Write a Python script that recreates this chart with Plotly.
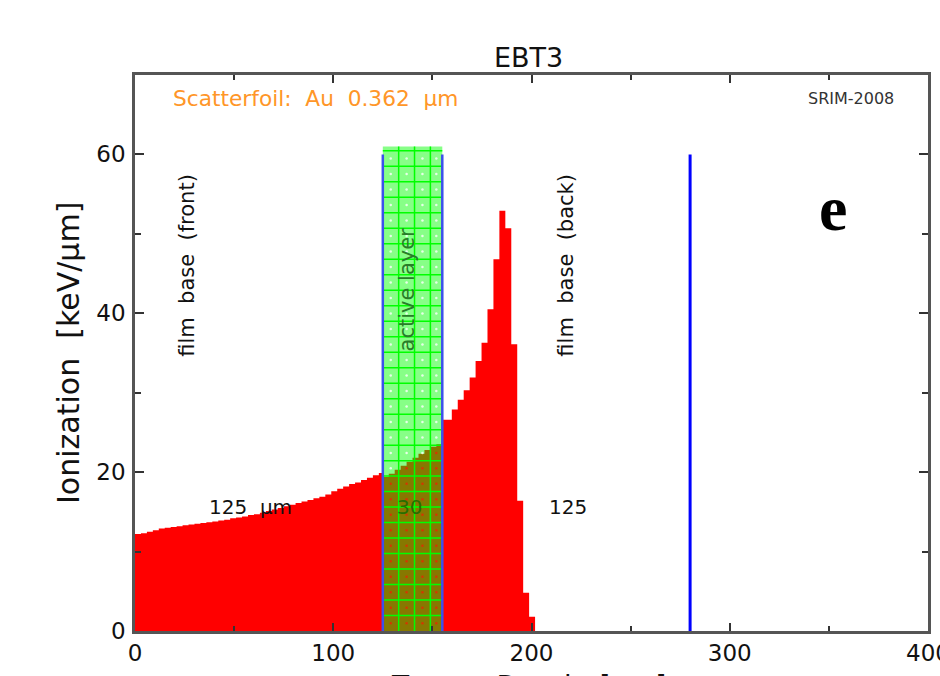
import numpy as np
import plotly.graph_objects as go

# ---------------- data ----------------
layer_names = ["film  base  (front)", "active layer", "film  base  (back)"]
layer_thickness = [125, 30, 125]          # µm
layer_labels = ["125  µm", "30", "125"]

# ionization (keV/µm) per depth bin
front_bin_width = 3.0
front_ionization = [12.2, 12.3, 12.5, 12.7, 12.9, 13.0, 13.1, 13.2, 13.3, 13.4,
                    13.5, 13.6, 13.7, 13.8, 13.9, 14.0, 14.2, 14.3, 14.4, 14.6,
                    14.7, 14.9, 15.1, 15.3, 15.5, 15.7, 15.9, 16.1, 16.3, 16.5,
                    16.7, 16.9, 17.2, 17.6, 17.9, 18.2, 18.5, 18.7, 19.0, 19.3,
                    19.6, 19.9]
active_bin_width = 3.0
active_ionization = [19.4, 19.8, 20.3, 20.8, 21.3, 21.8, 22.3, 22.8, 23.2, 23.5]
back_bin_edges = [155, 159.8, 162.8, 165.8, 168.8, 171.8, 174.8, 177.8, 180.8,
                  183.8, 186.8, 189.8, 192.8, 195.8, 198.8, 201.8]
back_ionization = [26.6, 27.9, 29.1, 30.3, 31.9, 34.0, 36.3, 40.5, 46.8, 52.9,
                   50.7, 36.1, 16.4, 4.8, 1.8]

x_ticks = [0, 100, 200, 300, 400]
y_ticks = [0, 20, 40, 60]

# ---------------- build step outline ----------------
bounds = np.concatenate([[0], np.cumsum(layer_thickness)])


def region_edges(start, end, width, n):
    return [min(start + width * k, end) for k in range(n)] + [end]


front_edges = region_edges(bounds[0], bounds[1], front_bin_width, len(front_ionization))
active_edges = region_edges(bounds[1], bounds[2], active_bin_width, len(active_ionization))

xs, ys = [], []
for edges, vals in [(front_edges, front_ionization),
                    (active_edges, active_ionization),
                    (back_bin_edges, back_ionization)]:
    for i, v in enumerate(vals):
        xs.append(edges[i])
        ys.append(v)
xs.append(back_bin_edges[-1])
ys.append(0)

fig = go.Figure()

# red ionization histogram
fig.add_trace(go.Scatter(
    x=xs, y=ys, mode="lines", line=dict(width=0, shape="hv", color="red"),
    fill="tozeroy", fillcolor="rgb(255,0,0)", hoverinfo="skip", showlegend=False))

# active layer box (translucent green)
a0, a1 = bounds[1], bounds[2]
box_top = 61
fig.add_trace(go.Scatter(
    x=[a0, a1, a1, a0, a0], y=[0, 0, box_top, box_top, 0], mode="lines",
    line=dict(width=0), fill="toself", fillcolor="rgba(0,255,0,0.47)",
    hoverinfo="skip", showlegend=False))

# hatch grid inside the active layer
gx = list(np.arange(a0, a1, 8.0))[1:]
gy = list(np.arange(0, box_top, 1.95))[1:]
lx, ly = [], []
for g in gx:
    lx += [g, g, None]
    ly += [0, box_top, None]
for g in gy:
    lx += [a0, a1, None]
    ly += [g, g, None]
fig.add_trace(go.Scatter(x=lx, y=ly, mode="lines",
                         line=dict(color="rgb(0,255,0)", width=1.5),
                         hoverinfo="skip", showlegend=False))

# dots in cell centres
cx_edges = [a0] + gx + [a1]
cy_edges = [0] + gy
dxw, dyw, dxr, dyr = [], [], [], []
act_centers = np.array(active_edges[:-1]) + active_bin_width / 2
for i in range(len(cx_edges) - 1):
    cx = (cx_edges[i] + cx_edges[i + 1]) / 2
    level = np.interp(cx, act_centers, active_ionization)
    for j in range(len(cy_edges) - 1):
        cy = (cy_edges[j] + cy_edges[j + 1]) / 2
        if cy < level:
            dxr.append(cx); dyr.append(cy)
        else:
            dxw.append(cx); dyw.append(cy)
fig.add_trace(go.Scatter(x=dxw, y=dyw, mode="markers",
                         marker=dict(size=2.5, color="rgba(255,255,255,0.8)"),
                         hoverinfo="skip", showlegend=False))
fig.add_trace(go.Scatter(x=dxr, y=dyr, mode="markers",
                         marker=dict(size=2.5, color="rgba(230,40,0,0.8)"),
                         hoverinfo="skip", showlegend=False))

# layer boundary lines
for b in bounds[1:3]:
    fig.add_trace(go.Scatter(x=[b, b], y=[0, 60], mode="lines",
                             line=dict(color="rgb(60,80,235)", width=2.5),
                             hoverinfo="skip", showlegend=False))
fig.add_trace(go.Scatter(x=[bounds[3], bounds[3]], y=[0, 60], mode="lines",
                         line=dict(color="rgb(0,0,255)", width=3),
                         hoverinfo="skip", showlegend=False))

FONT = "DejaVu Sans"
ann = []
# rotated layer names
for name, xm, ym, col in zip(layer_names, [26.2, 137.2, 217.3], [46.1, 43.0, 46.1],
                             ["#111", "rgb(40,125,40)", "#111"]):
    ann.append(dict(x=xm, y=ym, xref="x", yref="y", text=name, textangle=-90,
                    showarrow=False, font=dict(family=FONT, size=21, color=col)))
# thickness labels
for lab, xm, col in zip(layer_labels, [58.5, 138.7, 218.4],
                        ["#111", "rgb(40,110,0)", "#111"]):
    ann.append(dict(x=xm, y=15.6, xref="x", yref="y", text=lab, showarrow=False,
                    font=dict(family=FONT, size=20, color=col)))

ann += [
    dict(x=0.4956, y=1.0306, xref="paper", yref="paper", xanchor="center",
         yanchor="middle", showarrow=False, text="EBT3",
         font=dict(family=FONT, size=27, color="#111")),
    dict(x=18.2, y=67.1, xref="x", yref="y", xanchor="left", showarrow=False,
         text="Scatterfoil:  Au  0.362  µm",
         font=dict(family=FONT, size=21.7, color="rgb(255,150,40)")),
    dict(x=384, y=67.1, xref="x", yref="y", xanchor="right", showarrow=False,
         text="SRIM-2008", font=dict(family=FONT, size=16, color="#333")),
    dict(x=352, y=53.2, xref="x", yref="y", showarrow=False, text="<b>e</b>",
         font=dict(family="Liberation Serif", size=64, color="black")),
    dict(x=-0.0845, y=0.5, xref="paper", yref="paper", xanchor="center",
         yanchor="middle", showarrow=False,
         text="Ionization  [keV/µm]", textangle=-90,
         font=dict(family=FONT, size=30, color="#111")),
    dict(x=0.4956, y=-0.1007, xref="paper", yref="paper", showarrow=False,
         text="Target  Depth  [µm]", xanchor="center", yanchor="middle",
         font=dict(family=FONT, size=28, color="#111")),
]

axis_common = dict(showline=True, linecolor="#555", linewidth=2.5, mirror="ticks",
                   ticks="inside", tickcolor="#333", tickwidth=2, showgrid=False,
                   zeroline=False, automargin=False, ticklabeloverflow="allow",
                   tickfont=dict(family=FONT, size=23, color="#111"))

fig.update_layout(
    width=940, height=676,
    margin=dict(l=135, r=12, t=75, b=45),
    paper_bgcolor="white", plot_bgcolor="white",
    xaxis=dict(range=[0, 400], tickvals=x_ticks, ticklen=8, ticklabelstandoff=0,
               minor=dict(dtick=50, ticks="inside", ticklen=5, tickcolor="#333",
                          tickwidth=2),
               **axis_common),
    yaxis=dict(range=[0, 70], tickvals=y_ticks, ticklen=9, ticklabelstandoff=2,
               minor=dict(dtick=10, ticks="inside", ticklen=6, tickcolor="#333",
                          tickwidth=2),
               **axis_common),
    annotations=ann,
    showlegend=False,
)

fig.write_html("out.html", config={"displayModeBar": False},
               post_script="document.body.style.margin='0px';")
